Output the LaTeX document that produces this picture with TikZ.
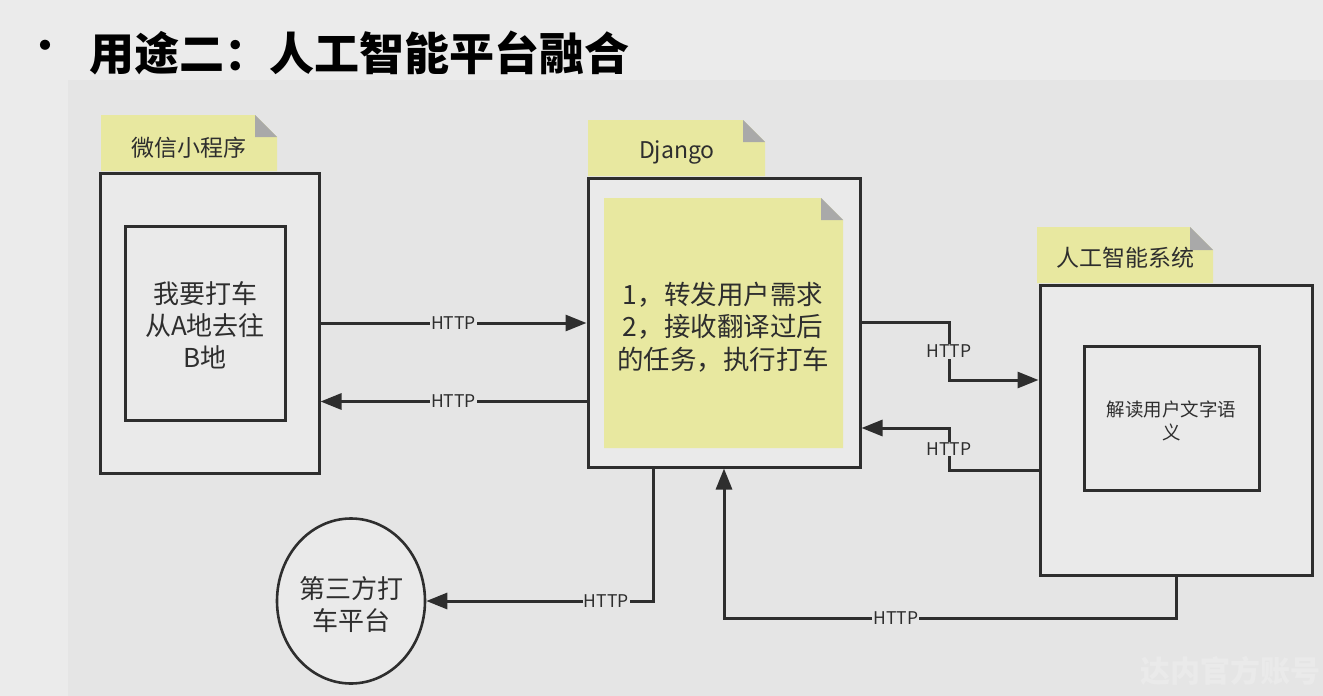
\documentclass[tikz,border=0pt]{standalone}
\usepackage{fontspec}
\setmainfont{Noto Sans CJK SC}
\usetikzlibrary{arrows.meta,shapes.geometric}
\definecolor{bgout}{HTML}{EBEBEB}
\definecolor{bgin}{HTML}{E5E5E5}
\definecolor{boxfill}{HTML}{EAEAEA}
\definecolor{ink}{HTML}{2E2E2E}
\definecolor{noteyel}{HTML}{E8E8A0}
\definecolor{fold}{HTML}{A9A9A9}
\tikzset{
  frame/.style={draw=ink, line width=3pt, fill=boxfill, rectangle, inner sep=0pt},
  innerbox/.style={draw=ink, line width=3pt, rectangle, inner sep=0pt, align=center, text=ink},
  tablabel/.style={text=ink, font=\fontsize{23}{26}\selectfont, inner sep=0pt},
  conn/.style={draw=ink, line width=3pt, -{Triangle[length=21pt,width=16pt]}},
  lbl/.style={fill=bgin, text=ink, font=\fontsize{17.5}{19}\selectfont, inner sep=1pt},
  bodytext/.style={font=\fontsize{26}{32}\selectfont, align=center, text=ink}
}
\newcommand{\notetab}[5]{% x0 y0 x1 y1 c
  \fill[noteyel] (#1,#2) -- (#3-#5,#2) -- (#3,#2+#5) -- (#3,#4) -- (#1,#4) -- cycle;
  \fill[fold] (#3-#5,#2) -- (#3-#5,#2+#5) -- (#3,#2+#5) -- cycle;
}
\begin{document}
\begin{tikzpicture}[x=1pt,y=-1pt]
\useasboundingbox (0,0) rectangle (1323,696);
\fill[bgout] (0,0) rectangle (1323,696);
\fill[bgin] (68,80) rectangle (1323,696);

% title
\node[text=black, font=\fontsize{48}{48}\selectfont, inner sep=0pt] (bullet) at (45,52) {•};
\node[anchor=west, text=black, font=\bfseries\fontsize{45}{48}\selectfont, inner sep=0pt] (title) at (89,53) {用途二：人工智能平台融合};

% WeChat
\node[frame, minimum width=219pt, minimum height=300pt] (wx) at (209.5,323) {};
\notetab{101}{115}{277}{171}{22}
\node[tablabel] (wxl) at (189,148) {微信小程序};
\node[innerbox, minimum width=160pt, minimum height=194pt] (wxin) at (205,323) {};
\node[bodytext] (wxt) at (205,325) {我要打车\\从A地去往\\B地};

% Django
\node[frame, minimum width=272pt, minimum height=289pt] (dj) at (724,322.5) {};
\notetab{588}{120}{765}{176}{22}
\node[tablabel] (djl) at (677,152) {Django};
\notetab{604}{198}{843}{448}{22}
\node[bodytext, font=\fontsize{26.5}{32.5}\selectfont] (djt) at (723,327) {1，转发用户需求\\2，接收翻译过后\\的任务，执行打车};

% AI
\node[frame, minimum width=272pt, minimum height=290pt] (ai) at (1176,430) {};
\notetab{1037}{227}{1213}{283}{23}
\node[tablabel] (ail) at (1125,258) {人工智能系统};
\node[innerbox, minimum width=175pt, minimum height=144pt] (aiin) at (1171.5,418) {};
\node[bodytext, font=\fontsize{18.5}{23}\selectfont] (ait) at (1171.5,421) {解读用户文字语\\义};

% third party
\node[draw=ink, line width=2.6pt, fill=boxfill, ellipse, minimum width=148pt, minimum height=165pt, inner sep=0pt] (tp) at (351,601) {};
\node[bodytext] (tpt) at (351,605) {第三方打\\车平台};

% connectors
\draw[conn] (wx.east) -- node[lbl]{HTTP} (wx.east -| dj.west);
\draw[conn] ([yshift=-79pt]dj.west) -- node[lbl]{HTTP} ([yshift=-79pt]dj.west -| wx.east);
\coordinate (p1) at (949,380);
\draw[conn] (dj.east) -| node[lbl,pos=0.75]{HTTP} (p1) -- (p1 -| ai.west);
\coordinate (p2) at (949,428);
\draw[conn] ([yshift=-40pt]ai.west) -| node[lbl,pos=0.75]{HTTP} (p2) -- (p2 -| dj.east);
\draw[conn] ([xshift=-71pt]dj.south) |- node[lbl,pos=0.603]{HTTP} (tp.east);
\coordinate (p3) at (1176,618);
\draw[conn] (ai.south) -- (p3) -| node[lbl,pos=0.31]{HTTP} (dj.south);

% watermark
\node[text=white, opacity=0.2, font=\bfseries\fontsize{30}{32}\selectfont, anchor=west, inner sep=0pt] (wm) at (1140,671) {达内官方账号};
\end{tikzpicture}
\end{document}
